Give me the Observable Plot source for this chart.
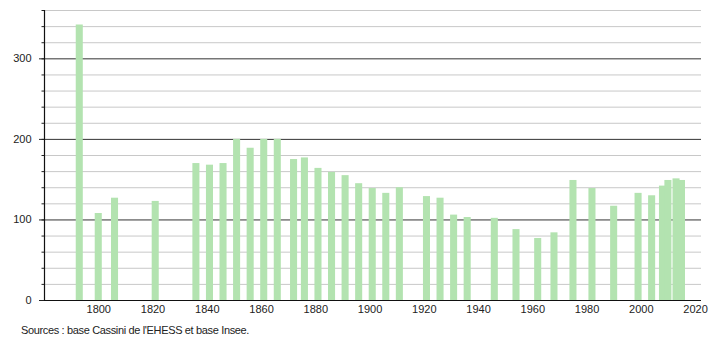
<!DOCTYPE html>
<html><head><meta charset="utf-8">
<script src="https://cdn.jsdelivr.net/npm/d3@7"></script>
<script src="https://cdn.jsdelivr.net/npm/@observablehq/plot@0.6"></script>
<style>
body{margin:0;background:#fff;font-family:"Liberation Sans",Arial,sans-serif;}
#chart svg{display:block;}
#cap{font-size:11px;color:#222;margin:4px 0 0 21px;letter-spacing:-0.35px;}
</style></head><body>
<div id="chart"></div>
<div id="cap">Sources : base Cassini de l'EHESS et base Insee.</div>
<script>
const years = [1793,1800,1806,1821,1836,1841,1846,1851,1856,1861,1866,1872,1876,1881,1886,1891,1896,1901,1906,1911,1921,1926,1931,1936,1946,1954,1962,1968,1975,1982,1990,1999,2004,2008,2010,2013,2015];
const population = [342,108,127,123,170,168,170,200,189,200,200,175,177,164,159,155,145,139,133,140,129,127,106,103,102,88,77,84,149,139,117,133,130,142,149,151,149];
const xTicks = [1800,1820,1840,1860,1880,1900,1920,1940,1960,1980,2000,2020];
const yMajor = [0,100,200,300];
const yMinor = d3.range(20,361,20);

const data = years.map((y,i)=>({year:y, pop:population[i]}));
const halfBar = 1.3;

const chart = Plot.plot({
  width: 710, height: 320,
  marginLeft: 44, marginRight: 9, marginTop: 10, marginBottom: 20,
  style: {fontFamily: '"Liberation Sans",Arial,sans-serif', fontSize: "11px", color: "#222"},
  x: {domain: [1780, 2022.2], label: null},
  y: {domain: [0, 360], label: null},
  marks: [
    Plot.ruleY(yMinor.filter(v=>v%100!==0), {stroke:"#c8c8c8", strokeWidth:1}),
    Plot.ruleY(yMajor.filter(v=>v>0), {stroke:"#333", strokeWidth:1}),
    Plot.rectY(data, {x1: d=>d.year-halfBar, x2: d=>d.year+halfBar, y: "pop", fill:"#b3e3b0"}),
    Plot.axisY(yMinor, {tickSize: 2.5, tickFormat: ()=>"", stroke:"#222", label: null}),
    Plot.axisY(yMajor, {tickSize: 5, tickPadding: 8, stroke:"#222", label: null}),
    Plot.axisX(xTicks, {tickSize: 0, tickPadding: 5, tickFormat: d=>String(d), label: null}),
    Plot.ruleY([0], {stroke:"#111", strokeWidth:1.2}),
    Plot.ruleX([1780], {y1:0, y2:360, stroke:"#111", strokeWidth:1.2})
  ]
});
document.getElementById("chart").append(chart);
</script>
</body></html>
